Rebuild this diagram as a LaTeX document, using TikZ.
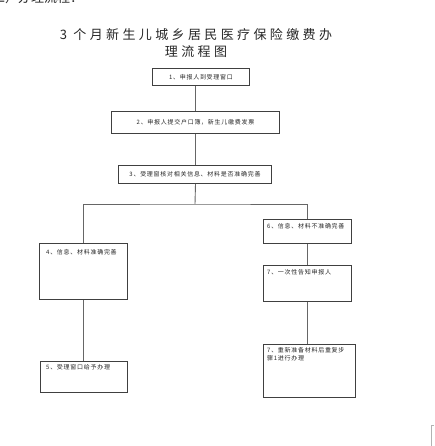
\documentclass[tikz,border=0pt]{standalone}
\usepackage{fontspec}
\setmainfont{Noto Sans CJK SC}
\newfontfamily\titlefont{Noto Sans CJK SC}[LetterSpace=26]
\newfontfamily\boxfont{Noto Sans CJK SC}[LetterSpace=12]
\begin{document}
\begin{tikzpicture}[x=1pt,y=-1pt,
  box/.style={draw=black!75, line width=1pt, inner sep=0pt, anchor=north west,
    font=\boxfont\fontsize{6}{7}\selectfont, text=black!85},
  boxtext/.style={inner sep=0pt, anchor=north west, align=left,
    font=\boxfont\fontsize{6}{8}\selectfont, text=black!85},
  titletext/.style={inner sep=0pt, font=\titlefont\fontsize{13}{15}\selectfont, text=black!85},
  conn/.style={draw=black!60, line width=0.9pt}]
\useasboundingbox (0,0) rectangle (434,446);

% cut-off heading at the very top
\node[anchor=base west, inner sep=0pt, font=\fontsize{13}{13}\selectfont, text=black!85] (cut) at (-21,2.5) {（二）办理流程：};

% title
\node[titletext] (t1) at (196,35) {3 个月新生儿城乡居民医疗保险缴费办};
\node[titletext] (t2) at (196,52) {理流程图};

% boxes
\node[box, minimum width=97pt, minimum height=17pt] (b1) at (152,68) {1、申报人到受理窗口};
\node[box, minimum width=168pt, minimum height=22pt] (b2) at (111,111) {2、申报人提交户口簿，新生儿缴费发票};
\node[box, minimum width=153pt, minimum height=18pt] (b3) at (118,165) {3、受理窗核对相关信息、材料是否准确完善};

\node[box, minimum width=88pt, minimum height=56pt] (b4) at (39,243) {};
\node[box, minimum width=87pt, minimum height=31pt] (b5) at (40,361) {};
\node[box, minimum width=88pt, minimum height=24pt] (b6) at (263,219) {};
\node[box, minimum width=88pt, minimum height=36pt] (b7) at (263,265) {};
\node[box, minimum width=92pt, minimum height=53pt] (b8) at (263,344) {};

% box texts (top-left aligned)
\node[boxtext] (x4) at ([shift={(7,6)}]b4.north west) {4、信息、材料准确完善};
\node[boxtext] (x5) at ([shift={(6,3)}]b5.north west) {5、受理窗口给予办理};
\node[boxtext] (x6) at ([shift={(4,4.5)}]b6.north west) {6、信息、材料不准确完善};
\node[boxtext] (x7) at ([shift={(4,4)}]b7.north west) {7、一次性告知申报人};
\node[boxtext] (x8) at ([shift={(4,3.5)}]b8.north west) {7、重新准备材料后重复步\\骤1进行办理};

% connectors
\coordinate (split) at (195,204);
\draw[conn] (b1.south -| b2.north) -- (b2.north);
\draw[conn] (b2.south) -- (b2.south |- b3.north);
\draw[conn] (b2.south |- b3.south) -- (split);
\draw[conn] (b4.north) |- (split) -| (b6.north);
\draw[conn] (b4.south) -- (b4.south |- b5.north);
\draw[conn] (b6.south) -- (b6.south |- b7.north);
\draw[conn] (b7.south) -- (b7.south |- b8.north);

% small corner mark at bottom right
\draw[black!30, line width=0.6pt] (434,425) -- (431,425) -- (431,446);
\end{tikzpicture}
\end{document}
